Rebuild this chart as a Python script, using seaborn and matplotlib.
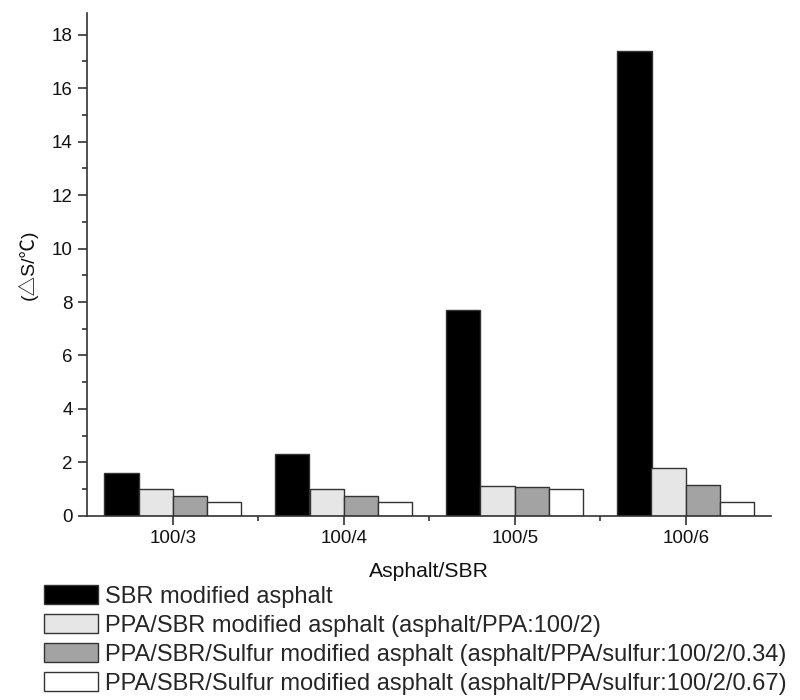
import matplotlib
matplotlib.use("Agg")
import matplotlib.pyplot as plt
import seaborn as sns
import pandas as pd
from matplotlib.ticker import MultipleLocator, FixedLocator

ratios = ["100/3", "100/4", "100/5", "100/6"]
series = [
    "SBR modified asphalt",
    "PPA/SBR modified asphalt (asphalt/PPA:100/2)",
    "PPA/SBR/Sulfur modified asphalt (asphalt/PPA/sulfur:100/2/0.34)",
    "PPA/SBR/Sulfur modified asphalt (asphalt/PPA/sulfur:100/2/0.67)",
]
sbr = [1.62, 2.30, 7.70, 17.40]
ppa_sbr = [1.01, 1.01, 1.13, 1.80]
sulfur_034 = [0.75, 0.75, 1.07, 1.16]
sulfur_067 = [0.52, 0.52, 1.01, 0.52]
colors = ["#000000", "#e6e6e6", "#a3a3a3", "#ffffff"]

rows = []
for name, vals in zip(series, [sbr, ppa_sbr, sulfur_034, sulfur_067]):
    for r, v in zip(ratios, vals):
        rows.append({"ratio": r, "series": name, "value": v})
df = pd.DataFrame(rows)

sns.set_style("ticks")
plt.rcParams["font.family"] = ["Liberation Sans", "Noto Sans CJK SC", "DejaVu Sans"]

fig = plt.figure(figsize=(8, 7), dpi=100)
ax = fig.add_axes([0.109, 0.263, 0.855, 0.718])

sns.barplot(data=df, x="ratio", y="value", hue="series", order=ratios,
            hue_order=series, palette=colors, edgecolor="#333333",
            linewidth=1.0, width=0.8, gap=0, ax=ax, errorbar=None,
            saturation=1)

ax.set_xlim(-0.5, 3.5)
ax.set_ylim(0, 18.8)
ax.yaxis.set_major_locator(MultipleLocator(2))
ax.yaxis.set_minor_locator(MultipleLocator(1))
ax.xaxis.set_minor_locator(FixedLocator([0.5, 1.5, 2.5]))
for s in ["top", "right"]:
    ax.spines[s].set_visible(False)
for s in ["left", "bottom"]:
    ax.spines[s].set_color("#333333")
    ax.spines[s].set_linewidth(1.2)
ax.tick_params(axis="both", which="major", direction="out", length=6.5,
               width=1.2, color="#333333", labelsize=13.5, labelcolor="#111111")
ax.tick_params(axis="both", which="minor", direction="out", length=3.5,
               width=1.2, color="#333333")
ax.tick_params(axis="x", which="major", pad=4)
ax.tick_params(axis="y", which="major", pad=4)

ax.set_xlabel("Asphalt/SBR", fontsize=15.2, color="#111111")
ax.xaxis.set_label_coords(0.5, -0.092)
ax.set_ylabel("(△S/℃)", fontsize=14, color="#111111")
ax.yaxis.set_label_coords(-0.073, 0.5)

handles, labels = ax.get_legend_handles_labels()
ax.get_legend().remove()
fig.legend(handles, labels, loc="upper left", bbox_to_anchor=(0.055, 0.164),
           frameon=False, fontsize=17, handlelength=2.29, handleheight=0.88,
           handletextpad=0.3, labelspacing=0.26, borderaxespad=0,
           borderpad=0)

fig.savefig("out.png", dpi=100)
